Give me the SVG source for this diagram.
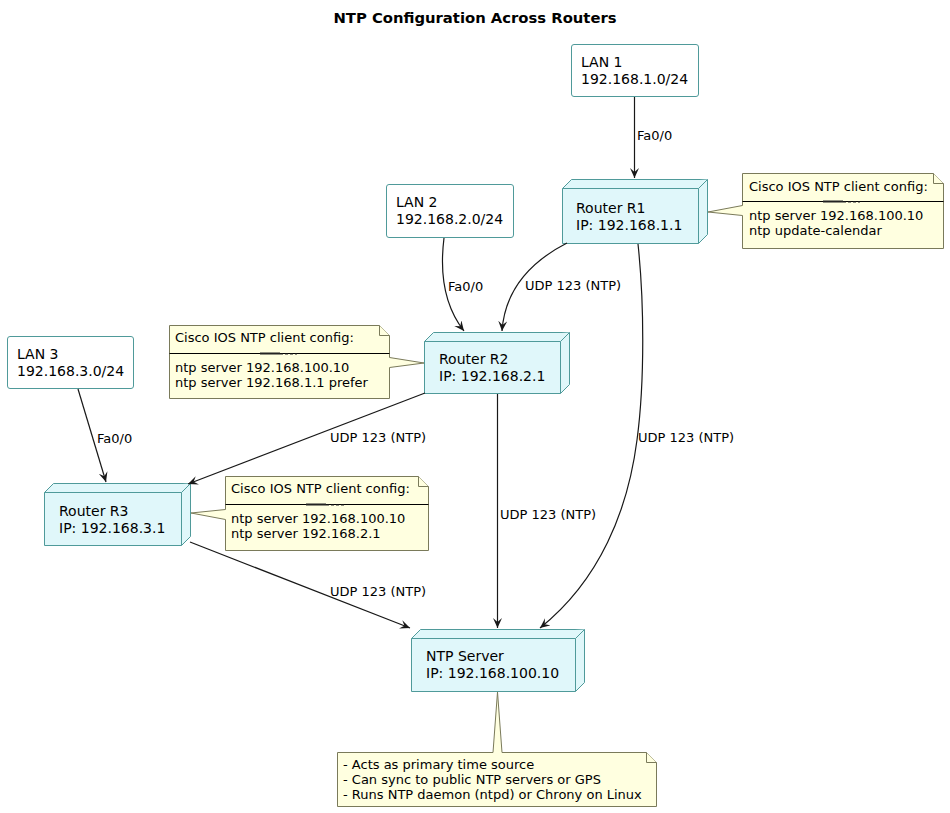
<svg xmlns="http://www.w3.org/2000/svg" width="950" height="813" viewBox="0 0 950 813">
<style>
text{font-family:"DejaVu Sans","Liberation Sans",sans-serif;fill:#000}
.title{font-size:14.8px;font-weight:bold}
.nt{font-size:14px}
.lt{font-size:13px}
.el{font-size:13px}
.box{fill:#e0f7fa;stroke:#4f9a9a;stroke-width:1}
.lan{fill:#fff;stroke:#4f9a9a;stroke-width:1}
.note{fill:#ffffe0;stroke:#7a7a5a;stroke-width:1}
.sep{stroke:#000;stroke-width:1}
.conn path{fill:none;stroke:#181818;stroke-width:1.2}
</style>
<defs>
<marker id="ah" markerUnits="userSpaceOnUse" markerWidth="12" markerHeight="10" refX="10" refY="4.5" orient="auto">
<path d="M0,0 L10,4.5 L0,9 L4,4.5 Z" fill="#181818"/>
</marker>
</defs>
<rect width="950" height="813" fill="#fff"/>
<text class="title" x="475" y="23" text-anchor="middle">NTP Configuration Across Routers</text>

<g id="lan1">
<rect class="lan" x="571.5" y="44.5" width="127" height="52" rx="2.5"/>
<text class="nt" x="581" y="67">LAN 1</text>
<text class="nt" x="581" y="84">192.168.1.0/24</text>
</g>
<g id="lan2">
<rect class="lan" x="386.5" y="184.5" width="127" height="53" rx="2.5"/>
<text class="nt" x="396" y="207">LAN 2</text>
<text class="nt" x="396" y="224">192.168.2.0/24</text>
</g>
<g id="lan3">
<rect class="lan" x="7.5" y="336.5" width="126" height="52" rx="2.5"/>
<text class="nt" x="17" y="359">LAN 3</text>
<text class="nt" x="17" y="376">192.168.3.0/24</text>
</g>

<g id="r1">
<path class="box" d="M562.5,188.5 L571.5,179.5 L707.5,179.5 L707.5,234.5 L698.5,243.5 L562.5,243.5 Z"/>
<path class="box" d="M562.5,188.5 L698.5,188.5 L707.5,179.5 M698.5,188.5 L698.5,243.5" fill="none"/>
<text class="nt" x="576" y="213">Router R1</text>
<text class="nt" x="576" y="230">IP: 192.168.1.1</text>
</g>
<g id="r2">
<path class="box" d="M424.5,341.5 L433.5,332.5 L569.5,332.5 L569.5,384.5 L560.5,393.5 L424.5,393.5 Z"/>
<path class="box" d="M424.5,341.5 L560.5,341.5 L569.5,332.5 M560.5,341.5 L560.5,393.5" fill="none"/>
<text class="nt" x="439" y="364">Router R2</text>
<text class="nt" x="439" y="381">IP: 192.168.2.1</text>
</g>
<g id="r3">
<path class="box" d="M44.5,492.5 L53.5,483.5 L190.5,483.5 L190.5,536.5 L181.5,545.5 L44.5,545.5 Z"/>
<path class="box" d="M44.5,492.5 L181.5,492.5 L190.5,483.5 M181.5,492.5 L181.5,545.5" fill="none"/>
<text class="nt" x="59" y="516">Router R3</text>
<text class="nt" x="59" y="533">IP: 192.168.3.1</text>
</g>
<g id="ntp">
<path class="box" d="M411.5,638.5 L420.5,629.5 L584.5,629.5 L584.5,682.5 L575.5,691.5 L411.5,691.5 Z"/>
<path class="box" d="M411.5,638.5 L575.5,638.5 L584.5,629.5 M575.5,638.5 L575.5,691.5" fill="none"/>
<text class="nt" x="426" y="661">NTP Server</text>
<text class="nt" x="426" y="678">IP: 192.168.100.10</text>
</g>

<g id="note-r1">
<path class="note" d="M742.5,173.5 L933.5,173.5 L943.5,183.5 L943.5,248.5 L742.5,248.5 L742.5,215.5 L708,212 L742.5,205.5 Z"/>
<path class="note" d="M933.5,173.5 L933.5,183.5 L943.5,183.5" fill="none"/>
<line class="sep" x1="742.5" y1="201.5" x2="943.5" y2="201.5"/>
<rect x="823" y="200.5" width="20" height="2" fill="#222"/>
<line x1="843" y1="202" x2="860" y2="202" stroke="#222" stroke-width="1" stroke-dasharray="3,2"/>
<text class="lt" x="749" y="191">Cisco IOS NTP client config:</text>
<text class="lt" x="749" y="220">ntp server 192.168.100.10</text>
<text class="lt" x="749" y="235">ntp update-calendar</text>
</g>
<g id="note-r2">
<path class="note" d="M169.5,325.5 L379.5,325.5 L389.5,335.5 L389.5,357.5 L424,363 L389.5,367.5 L389.5,398.5 L169.5,398.5 Z"/>
<path class="note" d="M379.5,325.5 L379.5,335.5 L389.5,335.5" fill="none"/>
<line class="sep" x1="169.5" y1="353.5" x2="389.5" y2="353.5"/>
<rect x="260" y="352.5" width="20" height="2" fill="#222"/>
<line x1="280" y1="354" x2="297" y2="354" stroke="#222" stroke-width="1" stroke-dasharray="3,2"/>
<text class="lt" x="175" y="342">Cisco IOS NTP client config:</text>
<text class="lt" x="175" y="372">ntp server 192.168.100.10</text>
<text class="lt" x="175" y="387">ntp server 192.168.1.1 prefer</text>
</g>
<g id="note-r3">
<path class="note" d="M225.5,476.5 L418.5,476.5 L428.5,486.5 L428.5,550.5 L225.5,550.5 L225.5,519.5 L191,513 L225.5,509.5 Z"/>
<path class="note" d="M418.5,476.5 L418.5,486.5 L428.5,486.5" fill="none"/>
<line class="sep" x1="225.5" y1="504.5" x2="428.5" y2="504.5"/>
<rect x="306" y="503.5" width="20" height="2" fill="#222"/>
<line x1="326" y1="505" x2="345" y2="505" stroke="#222" stroke-width="1" stroke-dasharray="3,2"/>
<text class="lt" x="231" y="493">Cisco IOS NTP client config:</text>
<text class="lt" x="231" y="523">ntp server 192.168.100.10</text>
<text class="lt" x="231" y="538">ntp server 192.168.2.1</text>
</g>
<g id="note-ntp">
<path class="note" d="M337.5,752.5 L493,752.5 L497.5,692 L502,752.5 L646.5,752.5 L656.5,762.5 L656.5,806.5 L337.5,806.5 Z"/>
<path class="note" d="M646.5,752.5 L646.5,762.5 L656.5,762.5" fill="none"/>
<text class="lt" x="343" y="769">- Acts as primary time source</text>
<text class="lt" x="343" y="784">- Can sync to public NTP servers or GPS</text>
<text class="lt" x="343" y="799">- Runs NTP daemon (ntpd) or Chrony on Linux</text>
</g>

<g id="connectors" class="conn">
<path d="M634.5,97 L634.5,178" marker-end="url(#ah)"/>
<path d="M444,238 C439,278 446,308 464,331" marker-end="url(#ah)"/>
<path d="M567,243 C530,262 505,290 502,331" marker-end="url(#ah)"/>
<path d="M638,244 C644,300 645,380 637,440 C628,510 600,580 540,628" marker-end="url(#ah)"/>
<path d="M425,393 L188,484" marker-end="url(#ah)"/>
<path d="M497.5,394 L497.5,628" marker-end="url(#ah)"/>
<path d="M190,542 L410,628" marker-end="url(#ah)"/>
<path d="M78,389 L106,482" marker-end="url(#ah)"/>
</g>
<g id="edge-labels">
<text class="el" x="637" y="140">Fa0/0</text>
<text class="el" x="448" y="291">Fa0/0</text>
<text class="el" x="97" y="443">Fa0/0</text>
<text class="el" x="525" y="290">UDP 123 (NTP)</text>
<text class="el" x="638" y="442">UDP 123 (NTP)</text>
<text class="el" x="330" y="442">UDP 123 (NTP)</text>
<text class="el" x="500" y="519">UDP 123 (NTP)</text>
<text class="el" x="330" y="596">UDP 123 (NTP)</text>
</g>
</svg>
